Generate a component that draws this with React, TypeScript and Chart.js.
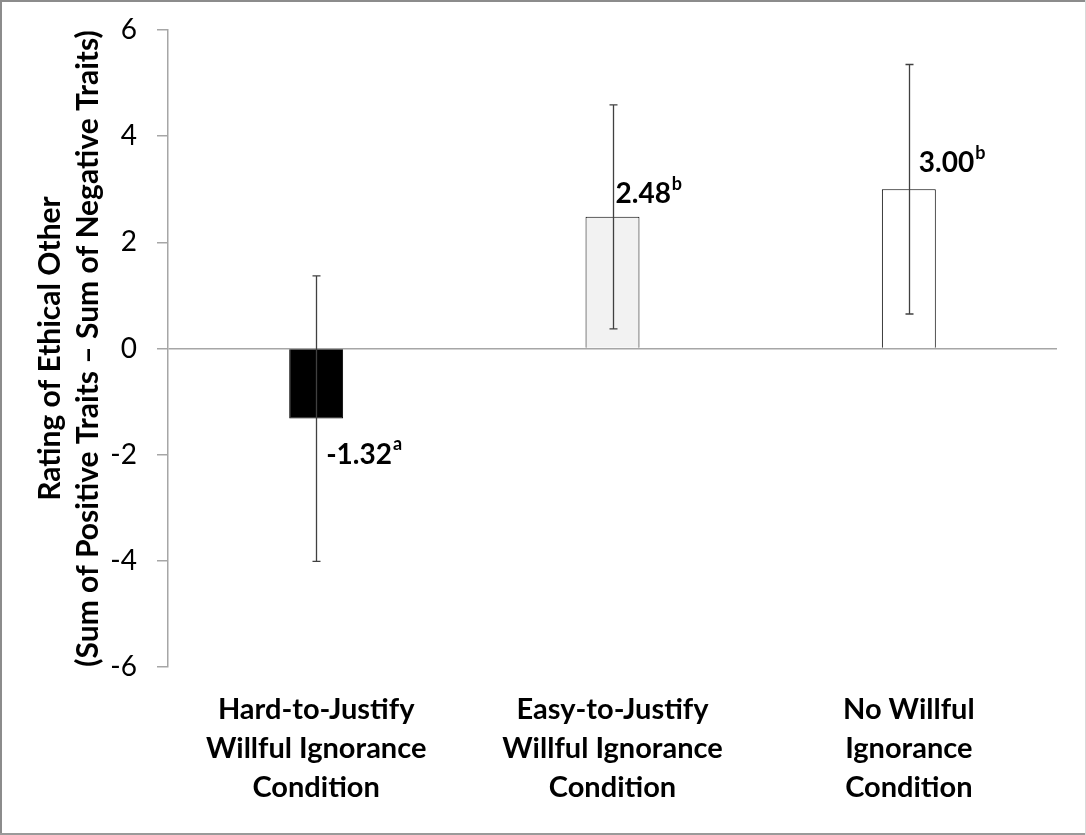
import React, { useEffect, useRef } from 'react';
import { Chart, registerables } from 'chart.js';

Chart.register(...registerables);

const CATEGORIES = [
  ['Hard-to-Justify', 'Willful Ignorance', 'Condition'],
  ['Easy-to-Justify', 'Willful Ignorance', 'Condition'],
  ['No Willful', 'Ignorance', 'Condition'],
];
const MEANS = [-1.32, 2.48, 3.0];
const ERRORS = [2.69, 2.11, 2.35];
const MEAN_LABELS = ['-1.32', '2.48', '3.00'];
const SUPERSCRIPTS = ['a', 'b', 'b'];
const BAR_COLORS = ['#000000', '#f2f2f2', '#ffffff'];
const Y_TICKS = [-6, -4, -2, 0, 2, 4, 6];
const Y_TITLE = ['Rating of Ethical Other', '(Sum of Positive Traits \u2013 Sum of Negative Traits)'];

const FONT = 'Lato, "Open Sans", sans-serif';
// label offsets relative to bar end (dx from bar center, dy from bar end)
const LABEL_OFFSETS = [
  [10, 36],
  [3, -23],
  [10, -26],
];

const framePlugin = {
  id: 'frame',
  beforeDraw(chart: any) {
    const { ctx, width, height } = chart;
    ctx.save();
    ctx.fillStyle = '#ffffff';
    ctx.fillRect(0, 0, width, height);
    ctx.restore();
  },
  afterDraw(chart: any) {
    const { ctx, width, height } = chart;
    ctx.save();
    ctx.fillStyle = '#8c8c8c';
    ctx.fillRect(0, 0, 2, height);
    ctx.fillRect(0, 0, width, 2);
    ctx.fillStyle = '#9a9a9a';
    ctx.fillRect(0, height - 2, width, 2);
    ctx.fillStyle = '#d9d9d9';
    ctx.fillRect(width - 1, 0, 1, height);
    ctx.restore();
  },
};

const errorBarPlugin = {
  id: 'errorBars',
  afterDatasetsDraw(chart: any) {
    const { ctx } = chart;
    const yScale = chart.scales.y;
    const meta = chart.getDatasetMeta(0);
    ctx.save();
    ctx.strokeStyle = '#404040';
    ctx.lineWidth = 1.3;
    meta.data.forEach((el: any, i: number) => {
      const x = Math.round(el.x) + 0.5;
      const top = yScale.getPixelForValue(MEANS[i] + ERRORS[i]);
      const bot = yScale.getPixelForValue(MEANS[i] - ERRORS[i]);
      ctx.beginPath();
      ctx.moveTo(x, top);
      ctx.lineTo(x, bot);
      ctx.moveTo(x - 4, top);
      ctx.lineTo(x + 4, top);
      ctx.moveTo(x - 4, bot);
      ctx.lineTo(x + 4, bot);
      ctx.stroke();
    });
    ctx.restore();
  },
};

const valueLabelPlugin = {
  id: 'valueLabels',
  afterDatasetsDraw(chart: any) {
    const { ctx } = chart;
    const meta = chart.getDatasetMeta(0);
    ctx.save();
    ctx.fillStyle = '#000000';
    ctx.textBaseline = 'middle';
    ctx.textAlign = 'left';
    meta.data.forEach((el: any, i: number) => {
      const [dx, dy] = LABEL_OFFSETS[i];
      const x = el.x + dx;
      const y = el.y + dy;
      ctx.font = `bold 28px ${FONT}`;
      ctx.fillText(MEAN_LABELS[i], x, y);
      const w = ctx.measureText(MEAN_LABELS[i]).width;
      ctx.font = `bold 18px ${FONT}`;
      ctx.fillText(SUPERSCRIPTS[i], x + w + 1, y - 10);
    });
    ctx.restore();
  },
};

export default function App() {
  const ref = useRef<HTMLCanvasElement | null>(null);
  useEffect(() => {
    if (!ref.current) return;
    const chart = new Chart(ref.current, {
      type: 'bar',
      data: {
        labels: CATEGORIES,
        datasets: [
          {
            data: MEANS,
            backgroundColor: BAR_COLORS,
            borderColor: '#000000',
            borderWidth: 1,
            barPercentage: 0.182,
            categoryPercentage: 1,
          },
        ],
      },
      options: {
        responsive: false,
        animation: false,
        layout: { padding: { left: 0, top: 30, right: 29, bottom: 0 } },
        plugins: {
          legend: { display: false },
          tooltip: { enabled: false },
        },
        scales: {
          x: {
            grid: { display: false, drawTicks: false },
            border: { display: false },
            ticks: {
              color: '#000000',
              padding: 23,
              maxRotation: 0,
              autoSkip: false,
              font: { family: FONT, size: 29, weight: 'bold', lineHeight: '39px' },
            },
            afterFit: (s: any) => {
              s.height = 168;
            },
          },
          y: {
            min: -6,
            max: 6,
            afterBuildTicks: (s: any) => {
              s.ticks = Y_TICKS.map((v) => ({ value: v }));
            },
            grid: {
              drawOnChartArea: true,
              color: (c: any) => (c.tick && c.tick.value === 0 ? '#a6a6a6' : 'rgba(0,0,0,0)'),
              tickColor: '#a6a6a6',
              tickLength: 11,
              lineWidth: 1.5,
            },
            border: { display: true, color: '#a6a6a6', width: 1.5 },
            ticks: {
              color: '#000000',
              padding: 20,
              font: { family: FONT, size: 28 },
            },
            title: {
              display: true,
              text: Y_TITLE,
              color: '#000000',
              padding: { top: 31, bottom: 0 },
              font: { family: FONT, size: 30, weight: 'bold', lineHeight: '38px' },
            },
            afterFit: (s: any) => {
              s.width = 168;
              s.paddingTop = 0;
              s.paddingBottom = 0;
            },
          },
        },
      },
      plugins: [framePlugin, errorBarPlugin, valueLabelPlugin],
    } as any);
    return () => chart.destroy();
  }, []);
  return (
    <div style={{ position: 'fixed', left: 0, top: 0, width: 1086, height: 835 }}>
      <canvas ref={ref} width={1086} height={835} />
    </div>
  );
}
